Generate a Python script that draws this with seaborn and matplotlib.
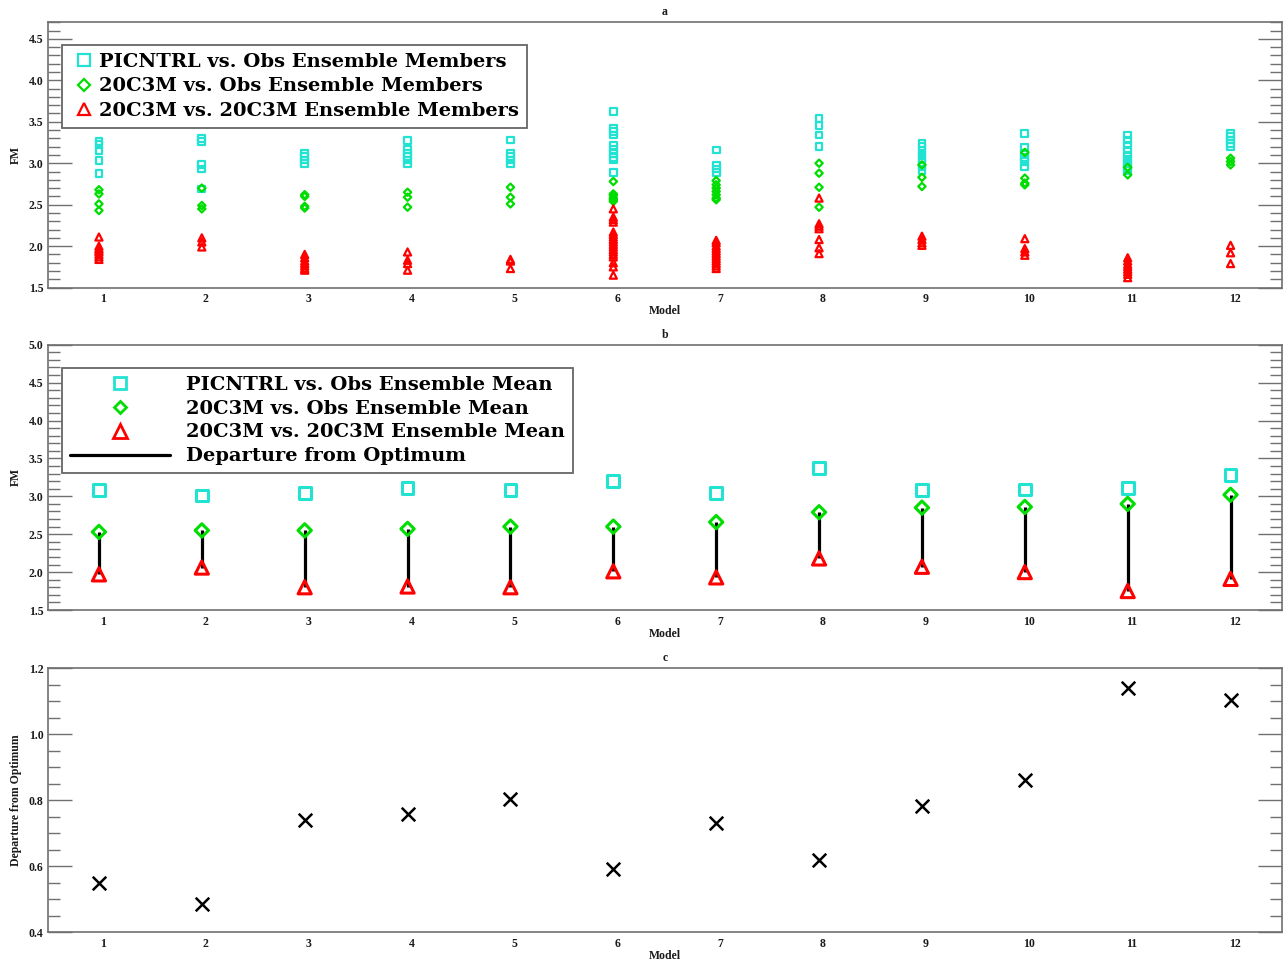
import numpy as np
import pandas as pd
import matplotlib
matplotlib.use("Agg")
import matplotlib.pyplot as plt
from matplotlib.lines import Line2D
from matplotlib.ticker import MultipleLocator, FormatStrFormatter
from matplotlib.transforms import ScaledTranslation
import seaborn as sns

# ---------------- data ----------------
models = list(range(1, 13))

# Panel a: individual ensemble members (FM) per model
pic_members = [
    [3.26, 3.23, 3.15, 3.03, 2.88],
    [3.30, 3.26, 2.98, 2.93, 2.69],
    [3.12, 3.08, 3.04, 3.00],
    [3.27, 3.17, 3.12, 3.08, 3.04, 2.99],
    [3.28, 3.12, 3.08, 3.04, 2.99],
    [3.62, 3.42, 3.38, 3.34, 3.21, 3.17, 3.12, 3.07, 3.04, 2.89],
    [3.16, 2.97, 2.93, 2.89],
    [3.54, 3.46, 3.34, 3.20],
    [3.24, 3.20, 3.15, 3.10, 3.05, 3.01, 2.96, 2.91],
    [3.36, 3.19, 3.12, 3.07, 3.02, 2.96],
    [3.34, 3.28, 3.22, 3.16, 3.10, 3.05, 3.00, 2.95, 2.91],
    [3.36, 3.32, 3.28, 3.24, 3.20],
]
c20_obs_members = [
    [2.68, 2.63, 2.51, 2.43],
    [2.70, 2.49, 2.45],
    [2.62, 2.60, 2.48, 2.46],
    [2.65, 2.59, 2.47],
    [2.71, 2.59, 2.51],
    [2.78, 2.63, 2.61, 2.58, 2.56, 2.54],
    [2.79, 2.74, 2.70, 2.66, 2.62, 2.58, 2.56],
    [3.00, 2.88, 2.71, 2.47],
    [2.98, 2.83, 2.72],
    [3.13, 2.82, 2.76, 2.74],
    [2.95, 2.86],
    [3.06, 3.02, 2.98],
]
c20_c20_members = [
    [2.11, 2.00, 1.97, 1.95, 1.93, 1.90, 1.87, 1.84],
    [2.10, 2.05, 1.99],
    [1.90, 1.86, 1.82, 1.79, 1.76, 1.73, 1.71],
    [1.93, 1.83, 1.79, 1.71],
    [1.84, 1.82, 1.73],
    [2.45, 2.35, 2.32, 2.29, 2.17, 2.14, 2.11, 2.08, 2.05, 2.02, 1.99,
     1.96, 1.93, 1.90, 1.87, 1.80, 1.75, 1.65],
    [2.07, 2.04, 2.00, 1.97, 1.94, 1.91, 1.88, 1.85, 1.82, 1.79, 1.76, 1.73],
    [2.58, 2.27, 2.24, 2.21, 2.08, 1.98, 1.91],
    [2.12, 2.08, 2.04, 2.01],
    [2.09, 1.97, 1.93, 1.89],
    [1.86, 1.82, 1.78, 1.75, 1.72, 1.69, 1.66, 1.62],
    [2.01, 1.92, 1.79],
]

# Panel b: ensemble means (FM)
pic_mean = [3.08, 3.01, 3.04, 3.11, 3.08, 3.20, 3.04, 3.37, 3.08, 3.09, 3.11, 3.28]
c20_obs_mean = [2.53, 2.55, 2.55, 2.57, 2.60, 2.60, 2.66, 2.79, 2.85, 2.86, 2.90, 3.02]
c20_c20_mean = [1.97, 2.06, 1.80, 1.81, 1.80, 2.01, 1.93, 2.18, 2.07, 2.00, 1.75, 1.91]

# Panel c: departure from optimum
departure = [0.549, 0.486, 0.739, 0.757, 0.802, 0.591, 0.730, 0.618, 0.781, 0.862, 1.139, 1.103]

legend_a = ["PICNTRL vs. Obs Ensemble Members",
            "20C3M vs. Obs Ensemble Members",
            "20C3M vs. 20C3M Ensemble Members"]
legend_b = ["PICNTRL vs. Obs Ensemble Mean",
            "20C3M vs. Obs Ensemble Mean",
            "20C3M vs. 20C3M Ensemble Mean",
            "Departure from Optimum"]
titles = ["a", "b", "c"]
xlabel = "Model"
ylabels = ["FM", "FM", "Departure from Optimum"]

# ---------------- style ----------------
CYAN = "#22E3D2"
GREEN = "#00DD00"
RED = "#FF0000"
GRAY = "#707070"
LEG_PROP = {"family": "DejaVu Serif", "weight": "bold", "size": 14}

sns.set_theme(style="ticks")
plt.rcParams["font.family"] = ["Liberation Serif", "DejaVu Serif"]

W, H = 1283, 963
fig = plt.figure(figsize=(W / 100, H / 100), dpi=100)
axA = fig.add_axes([47.5 / W, 1 - 287.6 / H, 1234.5 / W, 265.3 / H])
axB = fig.add_axes([47.5 / W, 1 - 610.0 / H, 1234.5 / W, 265.3 / H])
axC = fig.add_axes([47.5 / W, 1 - 932.0 / H, 1234.5 / W, 264.0 / H])


def long_form(members, name):
    rows = []
    for m, vals in zip(models, members):
        for v in vals:
            rows.append({"model": m, "value": v, "series": name})
    return pd.DataFrame(rows)


def style_axis(ax, ylim, major, minor, title, ylabel):
    ax.set_xlim(0.5, 12.5)
    ax.set_ylim(*ylim)
    ax.set_xticks(models)
    ax.set_xticklabels([str(m) for m in models])
    ax.yaxis.set_major_locator(MultipleLocator(major))
    ax.yaxis.set_minor_locator(MultipleLocator(minor))
    ax.yaxis.set_major_formatter(FormatStrFormatter("%.1f"))
    ax.tick_params(axis="y", which="major", direction="in", length=17, width=1.0,
                   color=GRAY, left=True, right=True, labelsize=8.5, pad=3)
    ax.tick_params(axis="y", which="minor", direction="in", length=8.5, width=1.0,
                   color=GRAY, left=True, right=True)
    ax.tick_params(axis="x", which="both", length=0, labelsize=8.5, pad=4)
    for s in ax.spines.values():
        s.set_visible(True)
        s.set_color(GRAY)
        s.set_linewidth(1.2)
    for lab in ax.get_xticklabels() + ax.get_yticklabels():
        lab.set_fontweight("bold")
        lab.set_color("#1a1a1a")
    off = ScaledTranslation(4 / 100, 0, fig.dpi_scale_trans)
    for lab in ax.get_xticklabels():
        lab.set_transform(lab.get_transform() + off)
    ax.set_title(title, fontsize=8.5, fontweight="bold", pad=5, color="#1a1a1a")
    ax.set_xlabel(xlabel, fontsize=8.5, fontweight="bold", labelpad=0, color="#1a1a1a")
    ax.set_ylabel(ylabel, fontsize=8.5, fontweight="bold", color="#1a1a1a")
    ax.yaxis.set_label_coords(-0.021, 0.5)


def finish_legend(leg):
    leg.get_frame().set_linewidth(1.3)
    for t in leg.get_texts():
        t.set_color("black")


# ---------------- panel a ----------------
dfa = pd.concat([long_form(pic_members, "pic"),
                 long_form(c20_obs_members, "obs"),
                 long_form(c20_c20_members, "c20")])
for name, mk, col, s in [("pic", "s", CYAN, 24), ("obs", "D", GREEN, 14), ("c20", "^", RED, 26)]:
    sub = dfa[dfa["series"] == name]
    sns.scatterplot(data=sub, x="model", y="value", marker=mk, s=s, ax=axA,
                    facecolors="none", edgecolor=col, linewidth=1.6, legend=False)

style_axis(axA, (1.5, 4.7), 0.5, 0.1, titles[0], ylabels[0])
hA = [Line2D([], [], ls="none", marker="s", ms=8.5, mfc="none", mec=CYAN, mew=1.6),
      Line2D([], [], ls="none", marker="D", ms=6, mfc="none", mec=GREEN, mew=1.6),
      Line2D([], [], ls="none", marker="^", ms=8.5, mfc="none", mec=RED, mew=1.6)]
legA = axA.legend(hA, legend_a, loc="upper left", bbox_to_anchor=(0.0118, 0.9145),
                  borderaxespad=0, frameon=True, fancybox=False, framealpha=1,
                  edgecolor="#666666", handlelength=1.45, handletextpad=0.05,
                  borderpad=0.42, labelspacing=0.32, prop=LEG_PROP)
finish_legend(legA)

# ---------------- panel b ----------------
dfb = pd.DataFrame({"model": models, "pic": pic_mean, "obs": c20_obs_mean, "c20": c20_c20_mean})
axB.vlines(dfb["model"], dfb["c20"], dfb["obs"], color="black", lw=2.3, zorder=1)
for name, mk, col, s in [("pic", "s", CYAN, 72), ("obs", "D", GREEN, 46), ("c20", "^", RED, 90)]:
    sns.scatterplot(data=dfb, x="model", y=name, marker=mk, s=s, ax=axB,
                    facecolors="none", edgecolor=col, linewidth=2.2, legend=False, zorder=3)
style_axis(axB, (1.5, 5.0), 0.5, 0.1, titles[1], ylabels[1])
hB = [Line2D([], [], ls="none", marker="s", ms=9, mfc="none", mec=CYAN, mew=2.0),
      Line2D([], [], ls="none", marker="D", ms=6.5, mfc="none", mec=GREEN, mew=2.0),
      Line2D([], [], ls="none", marker="^", ms=9.5, mfc="none", mec=RED, mew=2.0),
      Line2D([], [], color="black", lw=2.3)]
legB = axB.legend(hB, legend_b, loc="upper left", bbox_to_anchor=(0.0118, 0.912),
                  borderaxespad=0, frameon=True, fancybox=False, framealpha=1,
                  edgecolor="#666666", handlelength=5.15, handletextpad=0.82,
                  borderpad=0.4, labelspacing=0.3, prop=LEG_PROP)
finish_legend(legB)

# ---------------- panel c ----------------
dfc = pd.DataFrame({"model": models, "departure": departure})
sns.scatterplot(data=dfc, x="model", y="departure", marker="x", s=95, color="black",
                linewidth=1.8, ax=axC, legend=False)
style_axis(axC, (0.4, 1.2), 0.2, 0.05, titles[2], ylabels[2])

fig.savefig("out.png", dpi=100, facecolor="white")
